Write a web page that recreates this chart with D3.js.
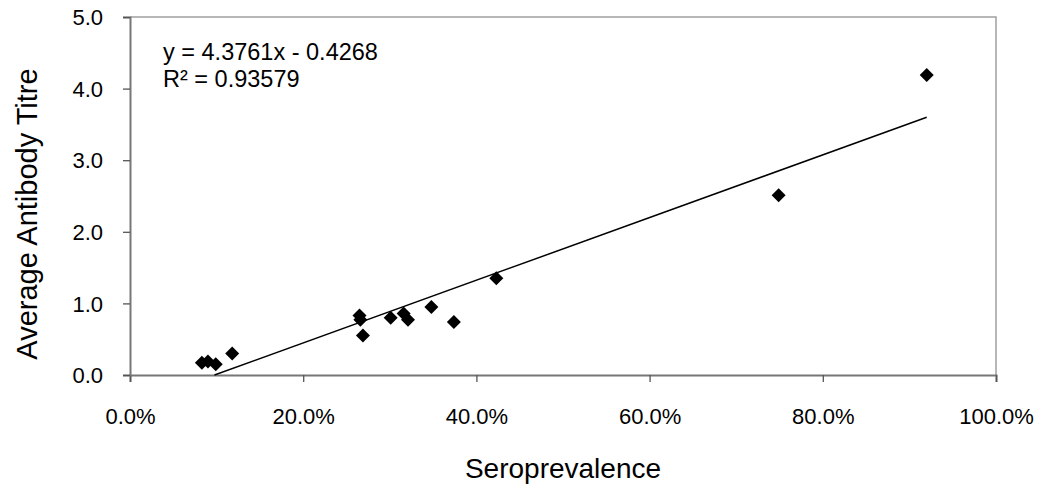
<!DOCTYPE html>
<html>
<head>
<meta charset="utf-8">
<script src="https://cdn.jsdelivr.net/npm/d3@7"></script>
<style>
  body { margin: 0; background: #fff; }
  text { font-family: "Liberation Sans", Arial, sans-serif; fill: #000; }
</style>
</head>
<body>
<svg id="chart"></svg>
<script>
// seroprevalence (fraction) and average antibody titre
var seroprevalence = [0.083, 0.090, 0.099, 0.118, 0.265, 0.266, 0.269, 0.301, 0.316, 0.321, 0.348, 0.374, 0.423, 0.749, 0.920];
var titre          = [0.17, 0.19, 0.15, 0.30, 0.83, 0.77, 0.55, 0.80, 0.86, 0.77, 0.95, 0.74, 1.35, 2.51, 4.19];
var xTicks = [0, 0.2, 0.4, 0.6, 0.8, 1.0];
var yTicks = [0, 1, 2, 3, 4, 5];
var slope = 4.3761, intercept = -0.4268;
var eqLines = ["y = 4.3761x - 0.4268", "R\u00b2 = 0.93579"];

var margin = {top: 17, right: 46, bottom: 116, left: 130},
    W = 1042, H = 491,
    width = W - margin.left - margin.right,
    height = H - margin.top - margin.bottom;

var svg = d3.select("#chart").attr("width", W).attr("height", H);
var g = svg.append("g").attr("transform", "translate(" + margin.left + "," + margin.top + ")");

var x = d3.scaleLinear().domain([0, 1]).range([0, width]);
var y = d3.scaleLinear().domain([0, 5]).range([height, 0]);

// frame top/right
g.append("path")
  .attr("d", "M0,0H" + width + "V" + height)
  .attr("fill", "none").attr("stroke", "#a0a0a0").attr("stroke-width", 1.5);

var xAxis = g.append("g")
  .attr("transform", "translate(0," + height + ")")
  .call(d3.axisBottom(x).tickValues(xTicks).tickSize(7).tickPadding(26)
    .tickFormat(function(d) { return (d * 100).toFixed(1) + "%"; }));
var yAxis = g.append("g")
  .call(d3.axisLeft(y).tickValues(yTicks).tickSize(7).tickPadding(20)
    .tickFormat(function(d) { return d.toFixed(1); }));

[xAxis, yAxis].forEach(function(a) {
  a.select(".domain").attr("stroke", "#777").attr("stroke-width", 2);
  a.selectAll(".tick line").attr("stroke", "#555").attr("stroke-width", 1.3);
  a.selectAll(".tick text").attr("font-size", 22).attr("font-family", "Liberation Sans, Arial, sans-serif").attr("fill", "#000");
});
yAxis.selectAll(".tick text").attr("dy", "0.35em");

// trendline, clipped at y = 0 as in the source
var x0 = -intercept / slope, x1 = d3.max(seroprevalence);
g.append("line")
  .attr("x1", x(x0)).attr("y1", y(slope * x0 + intercept))
  .attr("x2", x(x1)).attr("y2", y(slope * x1 + intercept))
  .attr("stroke", "#000").attr("stroke-width", 1.5);

// diamond markers
var r = 7;
g.selectAll(".pt")
  .data(seroprevalence)
  .enter().append("path")
  .attr("class", "pt")
  .attr("transform", function(d, i) { return "translate(" + x(d) + "," + y(titre[i]) + ")"; })
  .attr("d", "M0," + (-r) + "L" + r + ",0L0," + r + "L" + (-r) + ",0Z")
  .attr("fill", "#000");

// equation label
g.append("text")
  .attr("x", 33).attr("y", 43)
  .attr("font-size", 23.5)
  .selectAll("tspan").data(eqLines).enter().append("tspan")
  .attr("x", 33).attr("dy", function(d, i) { return i ? 27 : 0; })
  .text(function(d) { return d; });

// axis titles
svg.append("text")
  .attr("x", margin.left + width / 2).attr("y", 478)
  .attr("text-anchor", "middle").attr("font-size", 28)
  .text("Seroprevalence");
svg.append("text")
  .attr("transform", "translate(37," + (margin.top + height / 2 + 18) + ") rotate(-90)")
  .attr("text-anchor", "middle").attr("font-size", 29)
  .text("Average Antibody Titre");
</script>
</body>
</html>
